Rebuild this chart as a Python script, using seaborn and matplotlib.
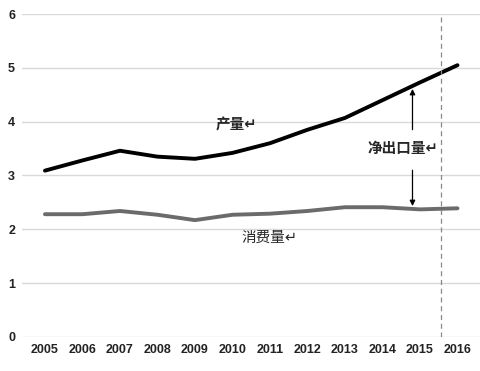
import pandas as pd
import matplotlib.pyplot as plt
import seaborn as sns

years = list(range(2005, 2017))
production = [3.09, 3.28, 3.46, 3.35, 3.31, 3.42, 3.60, 3.85, 4.07, 4.40, 4.73, 5.05]
consumption = [2.28, 2.28, 2.34, 2.27, 2.17, 2.27, 2.29, 2.34, 2.41, 2.41, 2.37, 2.39]

df = pd.DataFrame({"year": years, "prod": production, "cons": consumption})

sns.set_style("white")
plt.rcParams['font.family'] = ['Noto Sans CJK SC', 'DejaVu Sans']

fig = plt.figure(figsize=(4.8, 3.71), dpi=100)
ax = fig.add_axes([0.046, 0.092, 0.954, 0.870])

sns.lineplot(data=df, x="year", y="prod", color="black", lw=2.8, ax=ax)
sns.lineplot(data=df, x="year", y="cons", color="#6b6b6b", lw=2.8, ax=ax)

ax.set_xlim(2004.39, 2016.6)
ax.set_ylim(0, 6)
ax.set_yticks(range(0, 7))
ax.set_xticks(years)
ax.grid(axis="y", color="#d9d9d9", lw=1)
ax.set_axisbelow(True)
for s in ax.spines.values():
    s.set_visible(False)
ax.tick_params(length=0, pad=5)
for lab in ax.get_xticklabels() + ax.get_yticklabels():
    lab.set_family(['Liberation Sans', 'DejaVu Sans'])
    lab.set_fontsize(9)
    lab.set_color("#222222")
    lab.set_weight("bold")
ax.set_xlabel("")
ax.set_ylabel("")

ax.axvline(2015.56, color="#888888", lw=0.9, ls=(0, (4, 3)))

# net export arrows
ax.annotate("", xy=(2014.8, 4.66), xytext=(2014.8, 3.8),
            arrowprops=dict(arrowstyle="-|>", color="black", lw=0.9, mutation_scale=8))
ax.annotate("", xy=(2014.8, 2.38), xytext=(2014.8, 3.15),
            arrowprops=dict(arrowstyle="-|>", color="black", lw=0.9, mutation_scale=8))
ax.text(2014.55, 3.52, "净出口量↵", ha="center", va="center", fontsize=10.5, weight="bold")
ax.text(2010.1, 3.94, "产量↵", ha="center", va="center", fontsize=10.5, weight="bold")
ax.text(2011.0, 1.84, "消费量↵", ha="center", va="center", fontsize=10.5, weight="medium")

fig.savefig("out.png", dpi=100)
